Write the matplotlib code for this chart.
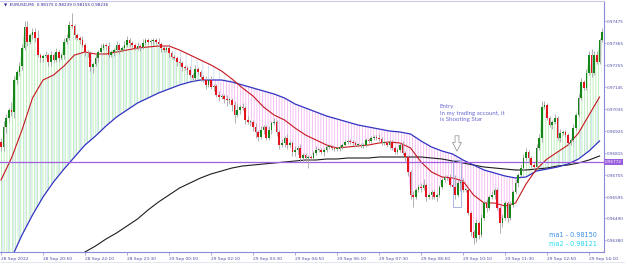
import numpy as np
import matplotlib
matplotlib.use('Agg')
from matplotlib import pyplot as plt
from matplotlib.path import Path
from matplotlib.patches import Polygon, Rectangle
from matplotlib.transforms import blended_transform_factory

plt.rcParams['hatch.linewidth'] = 0.5

# M5 candles, 28 Sep 19:30 .. 29 Sep 14:35 (open = previous close)
first_open = 0.96872
closes = [
    0.96847, 0.96947, 0.96992, 0.97032, 0.97022, 0.97182, 0.97222, 0.97252, 0.97342, 0.97447,
    0.97372, 0.97407, 0.97422, 0.97392, 0.97307, 0.97292, 0.97302, 0.97307, 0.97272, 0.97307,
    0.97282, 0.97322, 0.97292, 0.97307, 0.97372, 0.97392, 0.97457, 0.97452, 0.97407, 0.97392,
    0.97382, 0.97357, 0.97322, 0.97317, 0.97247, 0.97262, 0.97292, 0.97322, 0.97342, 0.97357,
    0.97352, 0.97307, 0.97322, 0.97332, 0.97357, 0.97332, 0.97342, 0.97357, 0.97382, 0.97367,
    0.97357, 0.97342, 0.97352, 0.97347, 0.97367, 0.97382, 0.97372,
    0.97377, 0.97382, 0.97372, 0.97362, 0.97342, 0.97332, 0.97342, 0.97317, 0.97297, 0.97292,
    0.97272, 0.97267, 0.97247, 0.97242, 0.97232, 0.97207, 0.97192, 0.97237, 0.97222, 0.97197,
    0.97182, 0.97157, 0.97182, 0.97147, 0.97152, 0.97107, 0.97097, 0.97102, 0.97087, 0.97082,
    0.97082, 0.97057, 0.97007, 0.97032, 0.97047, 0.97042, 0.96982, 0.96972, 0.96972, 0.96947,
    0.96922, 0.96897, 0.96932, 0.96947, 0.96892, 0.96932, 0.96967, 0.96972, 0.96922, 0.96857,
    0.96867, 0.96892, 0.96857, 0.96867, 0.96822, 0.96832,
    0.96842, 0.96792, 0.96807, 0.96792, 0.96797, 0.96792, 0.96817, 0.96832, 0.96832, 0.96822,
    0.96832, 0.96847, 0.96847, 0.96842, 0.96837, 0.96837, 0.96847, 0.96857, 0.96872, 0.96877,
    0.96872, 0.96867, 0.96857, 0.96857, 0.96852, 0.96857, 0.96882, 0.96877, 0.96892, 0.96897,
    0.96892, 0.96887, 0.96867, 0.96867, 0.96857, 0.96872, 0.96842, 0.96822, 0.96832, 0.96857,
    0.96817, 0.96797, 0.96722, 0.96607, 0.96597, 0.96632, 0.96647, 0.96642, 0.96657, 0.96597,
    0.96607, 0.96622, 0.96597, 0.96607, 0.96647, 0.96682, 0.96697, 0.96692,
    0.96657, 0.96647, 0.96607, 0.96667, 0.96672, 0.96632, 0.96632, 0.96517, 0.96422, 0.96392,
    0.96467, 0.96407, 0.96492, 0.96567, 0.96542, 0.96597, 0.96607, 0.96632, 0.96542, 0.96467,
    0.96492, 0.96567, 0.96492, 0.96557, 0.96622, 0.96667, 0.96707, 0.96742, 0.96792, 0.96822,
    0.96792, 0.96757, 0.96747, 0.96842, 0.96892, 0.97047, 0.97057, 0.96992, 0.96957, 0.96972,
    0.96992, 0.96892, 0.96917, 0.96922, 0.96907, 0.96867, 0.96882, 0.96942, 0.97007, 0.97092,
    0.97172, 0.97142, 0.97217, 0.97307, 0.97217, 0.97307, 0.97272, 0.97382, 0.97422,
]
# wick lengths in pips
upper_wick = [
    2, 3, 2, 1, 4, 2, 1, 2, 2, 3, 3, 1, 2, 2, 4, 1, 1, 2, 1, 2, 1, 2, 1, 1, 2, 2, 2, 6, 1, 1,
    1, 2, 1, 1, 1, 1, 2, 1, 2, 1, 1, 2, 1, 1, 2, 1, 1, 2, 2, 1, 1, 1, 2, 1, 2, 1, 1,
    1, 1, 1, 2, 1, 1, 1, 2, 1, 1, 1, 2, 1, 1, 1, 2, 1, 2, 1, 1, 1, 2, 1, 2, 1, 1, 2, 1, 1, 2,
    1, 1, 2, 3, 1, 2, 1, 2, 1, 1, 2, 1, 2, 1, 1, 2, 1, 2, 1, 1, 2, 1, 2, 1, 1, 2,
    1, 2, 1, 1, 1, 1, 1, 2, 1, 1, 1, 1, 1, 1, 1, 1, 1, 1, 1, 1, 1, 1, 1, 1, 1, 1, 1, 1, 1, 1,
    1, 2, 1, 1, 1, 1, 1, 1, 1, 1, 2, 1, 1, 1, 2, 1, 1, 2, 3, 1, 1, 1, 1, 1, 1, 1, 1, 1,
    2, 1, 6, 2, 1, 2, 1, 1, 1, 1, 2, 1, 2, 1, 2, 1, 2, 1, 1, 1, 2, 1, 1, 2, 1, 2, 1, 2, 2, 2,
    1, 1, 1, 2, 2, 3, 2, 1, 1, 1, 2, 1, 2, 1, 1, 1, 1, 2, 1, 2, 2, 1, 2, 2, 3, 2, 2, 1, 2,
]
lower_wick = [
    2, 2, 3, 2, 2, 3, 2, 2, 2, 1, 2, 1, 2, 2, 1, 2, 2, 1, 2, 2, 1, 1, 2, 1, 2, 1, 1, 1, 2, 1,
    2, 1, 2, 2, 2, 3, 1, 2, 1, 1, 2, 1, 1, 2, 1, 2, 1, 1, 1, 2, 1, 1, 1, 2, 1, 1, 1,
    1, 2, 1, 1, 2, 1, 1, 2, 1, 1, 2, 1, 2, 1, 2, 1, 2, 1, 1, 2, 1, 2, 1, 1, 2, 1, 2, 1, 2, 3,
    2, 3, 4, 1, 2, 1, 2, 1, 2, 2, 3, 2, 1, 2, 1, 1, 2, 1, 2, 2, 1, 2, 2, 1, 2, 2,
    2, 2, 2, 2, 5, 1, 1, 1, 1, 1, 2, 1, 1, 1, 1, 1, 1, 1, 1, 1, 1, 1, 1, 1, 1, 1, 1, 1, 1, 1,
    1, 1, 1, 1, 1, 2, 1, 1, 1, 1, 1, 2, 2, 2, 5, 1, 1, 2, 1, 2, 1, 2, 1, 2, 1, 1, 1, 1,
    1, 2, 2, 1, 4, 1, 1, 1, 2, 3, 2, 2, 1, 1, 2, 1, 1, 2, 1, 5, 2, 1, 2, 1, 1, 1, 2, 1, 1, 1,
    2, 1, 2, 1, 1, 2, 1, 1, 1, 2, 1, 1, 2, 1, 1, 1, 1, 1, 1, 1, 1, 1, 1, 1, 2, 1, 1, 1, 1,
]

# moving averages, one value every 4 bars
ma_step = 4
ma1 = [0.96682, 0.96792, 0.96932, 0.97092, 0.97182, 0.97207, 0.97252, 0.97307, 0.97322, 0.97312,
       0.97312, 0.97322, 0.97332, 0.97342, 0.97347, 0.97352, 0.97352, 0.97332, 0.97307, 0.97282,
       0.97257, 0.97227, 0.97187, 0.97142, 0.97102, 0.97047, 0.97007, 0.96982, 0.96942, 0.96907,
       0.96882, 0.96857, 0.96842, 0.96847, 0.96852, 0.96857, 0.96867, 0.96872, 0.96867, 0.96842,
       0.96772, 0.96722, 0.96697, 0.96692, 0.96677, 0.96607, 0.96567, 0.96567, 0.96552, 0.96567,
       0.96662, 0.96737, 0.96787, 0.96822, 0.96857, 0.96917, 0.97007, 0.97097]
ma2 = [0.96182, 0.96292, 0.96407, 0.96507, 0.96597, 0.96672, 0.96737, 0.96797, 0.96857, 0.96902,
       0.96952, 0.96997, 0.97032, 0.97067, 0.97092, 0.97117, 0.97137, 0.97157, 0.97172, 0.97182,
       0.97182, 0.97182, 0.97172, 0.97157, 0.97142, 0.97127, 0.97112, 0.97092, 0.97062, 0.97042,
       0.97022, 0.97002, 0.96987, 0.96972, 0.96957, 0.96947, 0.96937, 0.96927, 0.96922, 0.96912,
       0.96877, 0.96847, 0.96827, 0.96812, 0.96782, 0.96757, 0.96732, 0.96717, 0.96702, 0.96692,
       0.96697, 0.96727, 0.96737, 0.96747, 0.96762, 0.96787, 0.96827, 0.96877]
ma3 = [0.96082, 0.96112, 0.96142, 0.96172, 0.96202, 0.96232, 0.96262, 0.96292, 0.96322, 0.96352,
       0.96387, 0.96417, 0.96452, 0.96487, 0.96532, 0.96572, 0.96607, 0.96642, 0.96667, 0.96692,
       0.96712, 0.96727, 0.96742, 0.96752, 0.96757, 0.96762, 0.96767, 0.96772, 0.96777, 0.96782,
       0.96782, 0.96787, 0.96787, 0.96792, 0.96792, 0.96792, 0.96797, 0.96797, 0.96797, 0.96797,
       0.96797, 0.96792, 0.96787, 0.96777, 0.96767, 0.96757, 0.96747, 0.96742, 0.96737, 0.96732,
       0.96732, 0.96737, 0.96742, 0.96752, 0.96757, 0.96767, 0.96782, 0.96802]

level = 0.96772
price_ticks = [0.97475, 0.97365, 0.97255, 0.97145, 0.97035, 0.96925, 0.96815,
               0.96705, 0.96595, 0.96490, 0.96380]
time_labels = ['28 Sep 2022', '28 Sep 20:50', '28 Sep 22:10', '28 Sep 23:30', '29 Sep 00:50',
               '29 Sep 02:10', '29 Sep 03:30', '29 Sep 04:50', '29 Sep 06:10', '29 Sep 07:30',
               '29 Sep 08:50', '29 Sep 10:10', '29 Sep 11:30', '29 Sep 12:50', '29 Sep 14:10']
label_every = 16

closes = np.array(closes)
opens = np.r_[first_open, closes[:-1]]
highs = np.maximum(opens, closes) + np.array(upper_wick) * 0.0001
lows = np.minimum(opens, closes) - np.array(lower_wick) * 0.0001
x = np.arange(len(closes))
ma1 = np.array(ma1)
ma2 = np.array(ma2)
ma3 = np.array(ma3)
mx = np.arange(len(ma1)) * ma_step

fig = plt.figure(figsize=(6.25, 2.77), dpi=100)
ax = fig.add_axes([0, 25 / 277, 604 / 625, 251 / 277])
x0, x1 = -0.38, 229.7
y0, y1 = 0.96322, 0.97577
ax.set_xlim(x0, x1)
ax.set_ylim(y0, y1)

# histogram between price and ma2, green above / pink below
poly = np.column_stack([np.r_[x, mx[::-1]], np.r_[closes, ma2[::-1]]])
edge_x = np.r_[x0, mx, x1]
edge_y = np.r_[ma2[0], ma2, ma2[-1]]
above = Path(np.column_stack([np.r_[edge_x, x1, x0], np.r_[edge_y, y1, y1]]))
below = Path(np.column_stack([np.r_[edge_x, x1, x0], np.r_[edge_y, y0, y0]]))
for clip, col in [(above, '#a8eaa8'), (below, '#f3aaef')]:
    p = Polygon(poly, closed=True, facecolor='none', edgecolor=col,
                hatch='||||||', linewidth=0, zorder=1)
    ax.add_patch(p)
    p.set_clip_path(clip, ax.transData)
ax.fill_between(mx, ma1, ma2, where=ma1 >= ma2, interpolate=True, facecolor='none',
                edgecolor='#c4d8f4', hatch='|||', linewidth=0, zorder=1.2)

ax.plot(mx, ma3, color='#1e1e1e', lw=0.8, zorder=2)
ax.plot(mx, ma2, color='#3232c4', lw=0.9, zorder=2)
ax.plot(mx, ma1, color='#c8161e', lw=0.8, zorder=2)
ax.axhline(level, color='#a25fe0', lw=0.9, zorder=2.5)

# candles
body = closes - opens
body = np.where(np.abs(body) < 0.00003, np.where(body >= 0, 0.00003, -0.00003), body)
up = closes >= opens
ax.vlines(x, lows, highs, color='#a3a3a3', lw=0.6, zorder=3)
ax.bar(x[up], body[up], bottom=opens[up], width=0.62, color='#15851a', linewidth=0, zorder=4)
ax.bar(x[~up], body[~up], bottom=opens[~up], width=0.62, color='#e3141c', linewidth=0, zorder=4)

# annotation
ax.text(167.2, 0.97062, 'Entry\nIn my trading account, it\nis Shooting Star',
        family='Lato', fontsize=4.4, color='#6a6ad2', ha='left', va='top',
        linespacing=1.4, zorder=5)
ax.annotate('', xy=(173.7, 0.96812), xytext=(173.7, 0.96917),
            arrowprops=dict(arrowstyle='simple,head_length=0.8,head_width=0.8,tail_width=0.35',
                            fc='white', ec='#8a8a8a', lw=0.5, mutation_scale=8), zorder=5)
ax.add_patch(Rectangle((172.3, 0.96547), 2.9, 0.00235, fill=False, ec='#9aa6dc', lw=0.6, zorder=5))

fig.text(549 / 625, 1 - 235 / 277, 'ma1 - 0.98150', fontsize=4.7, color='#3b8ee8', va='center')
fig.text(549 / 625, 1 - 244 / 277, 'ma2 - 0.98121', fontsize=4.7, color='#20dcef', va='center')
fig.text(4 / 625, 1 - 5 / 277, '\u25bc  EURUSD,M5  0.98175 0.98239 0.98155 0.98236',
         fontsize=3.0, color='#25258f', va='center')

# axes
axis_col = '#8a8ad8'
lab_col = '#4a4aa6'
ax.spines['left'].set_visible(False)
ax.spines['top'].set_color('#c9c9ef')
ax.spines['top'].set_linewidth(0.8)
for side in ['right', 'bottom']:
    ax.spines[side].set_color(axis_col)
    ax.spines[side].set_linewidth(0.8)

ax.yaxis.tick_right()
ax.set_yticks(price_ticks)
ax.set_yticklabels(['%.5f' % p for p in price_ticks])
ax.set_xticks(np.arange(len(time_labels)) * label_every)
ax.set_xticklabels(time_labels)
for lab in ax.get_xticklabels():
    lab.set_ha('left')
ax.tick_params(axis='x', labelsize=3.2, colors=axis_col, labelcolor=lab_col,
               length=2, width=0.5, pad=1.5)
ax.tick_params(axis='y', labelsize=3.0, colors=axis_col, labelcolor=lab_col,
               length=1.2, width=0.5, pad=0.6)

tr = blended_transform_factory(ax.transAxes, ax.transData)
ax.text(1.002, level, '%.5f' % level, transform=tr, fontsize=3.0, color='white',
        va='center', ha='left', zorder=6,
        bbox=dict(boxstyle='square,pad=0.25', fc='#9a5fdc', ec='none'), clip_on=False)

fig.add_artist(plt.Line2D([0, 1], [1 - 262 / 277] * 2, color='#e2e2ee', lw=0.6))

fig.savefig('out.png', dpi=100)
